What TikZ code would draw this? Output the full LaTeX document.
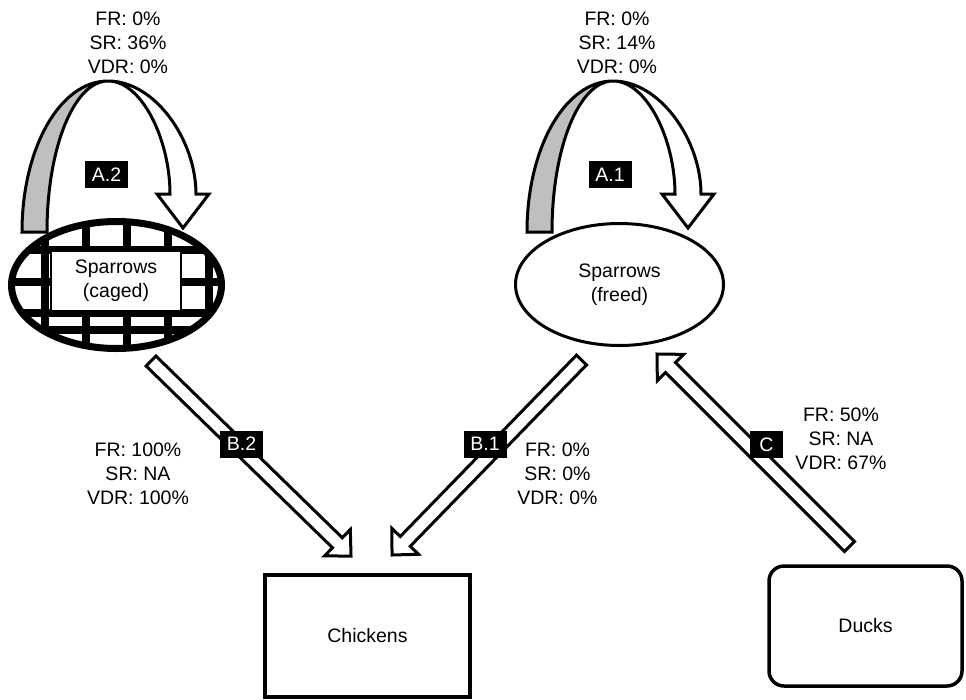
\documentclass[tikz,border=0pt]{standalone}
\usepackage{fontspec}
\setmainfont{Liberation Sans}
\usetikzlibrary{shapes.geometric,calc}

% wide hollow arrow between two named points
\newcommand\fatarrow[2]{%
  \draw[fat] ($(#1)!7pt!90:(#2)$)
    -- ($(#2)!19pt!(#1)!7pt!90:(#2)$)
    -- ($(#2)!19pt!(#1)!18.5pt!90:(#2)$)
    -- (#2)
    -- ($(#2)!19pt!(#1)!18.5pt!-90:(#2)$)
    -- ($(#2)!19pt!(#1)!7pt!-90:(#2)$)
    -- ($(#1)!7pt!-90:(#2)$) -- cycle;}

\begin{document}
\begin{tikzpicture}[x=1pt, y=-1pt,
  every node/.style={font=\fontsize{19.5}{24}\selectfont, align=center, inner sep=0pt}]
\tikzset{bird/.style={draw, ellipse},
  tag/.style={fill=black, text=white, minimum width=43, minimum height=27},
  rates/.style={text=black},
  fat/.style={draw, fill=white, line width=3pt, line join=miter},
  loopline/.style={draw, line width=3pt, line join=miter},
  bars/.style={line width=7.5pt},
  sparrowloop/.pic={
    \draw[loopline, fill=black!25] (22,232) .. controls (22,148) and (60,81) .. (108,81)
      .. controls (74,81) and (47,148) .. (47,232) -- cycle;
    \draw[loopline, fill=white] (108,81) .. controls (155,81) and (196,140) .. (196,194)
      -- (209,194) -- (183,228) -- (157,194) -- (170,194)
      .. controls (170,140) and (142,81) .. (108,81) -- cycle;
  }}
\useasboundingbox (0,0) rectangle (966,699);

% loops
\pic at (0,0) {sparrowloop};
\pic at (505,0) {sparrowloop};

% cage grid
\begin{scope}
\clip (116.5,285) ellipse [x radius=105, y radius=63.5];
\foreach \x in {45,86,127,168,209} \draw[bars] (\x,200) -- (\x,370);
\foreach \y in {250,282,313,330} \draw[bars] (0,\y) -- (240,\y);
\end{scope}

% sparrows
\node[bird, line width=7pt, minimum width=210, minimum height=127] (cage) at (116.5,285) {};
\node[draw, fill=white, line width=1.5pt, minimum width=130, minimum height=60] (cagetxt) at (116,281) {Sparrows\\(caged)};
\node[bird, fill=white, line width=3pt, minimum width=208, minimum height=122] (free) at (619.5,284.5) {Sparrows\\(freed)};

% poultry
\node[draw, line width=4.5pt, minimum width=205, minimum height=122] (chick) at (367.5,636) {Chickens};
\node[draw, line width=3.5pt, rounded corners=15pt, minimum width=193, minimum height=120] (duck) at (865.5,626) {Ducks};

% transmission arrows
\coordinate (B2s) at (151,361);
\coordinate (B2e) at (351,556);
\coordinate (B1s) at (581.5,360);
\coordinate (B1e) at (392,555);
\coordinate (Cs) at (849.5,546.5);
\coordinate (Ce) at (657,354);
\fatarrow{B2s}{B2e}
\fatarrow{B1s}{B1e}
\fatarrow{Cs}{Ce}

% tags
\node[tag] (A2) at (106.5,174.5) {A.2};
\node[tag] (A1) at (610,174.5) {A.1};
\node[tag] (B2) at (241.5,444) {B.2};
\node[tag] (B1) at (485,444) {B.1};
\node[tag, minimum width=33] (C) at (766.5,444.5) {C};

% rates
\node[rates] (rA2) at (128,43) {FR: 0\%\\SR: 36\%\\VDR: 0\%};
\node[rates] (rA1) at (617,43) {FR: 0\%\\SR: 14\%\\VDR: 0\%};
\node[rates] (rB2) at (138,474) {FR: 100\%\\SR: NA\\VDR: 100\%};
\node[rates] (rB1) at (557.5,474) {FR: 0\%\\SR: 0\%\\VDR: 0\%};
\node[rates] (rC) at (841,439) {FR: 50\%\\SR: NA\\VDR: 67\%};
\end{tikzpicture}
\end{document}
